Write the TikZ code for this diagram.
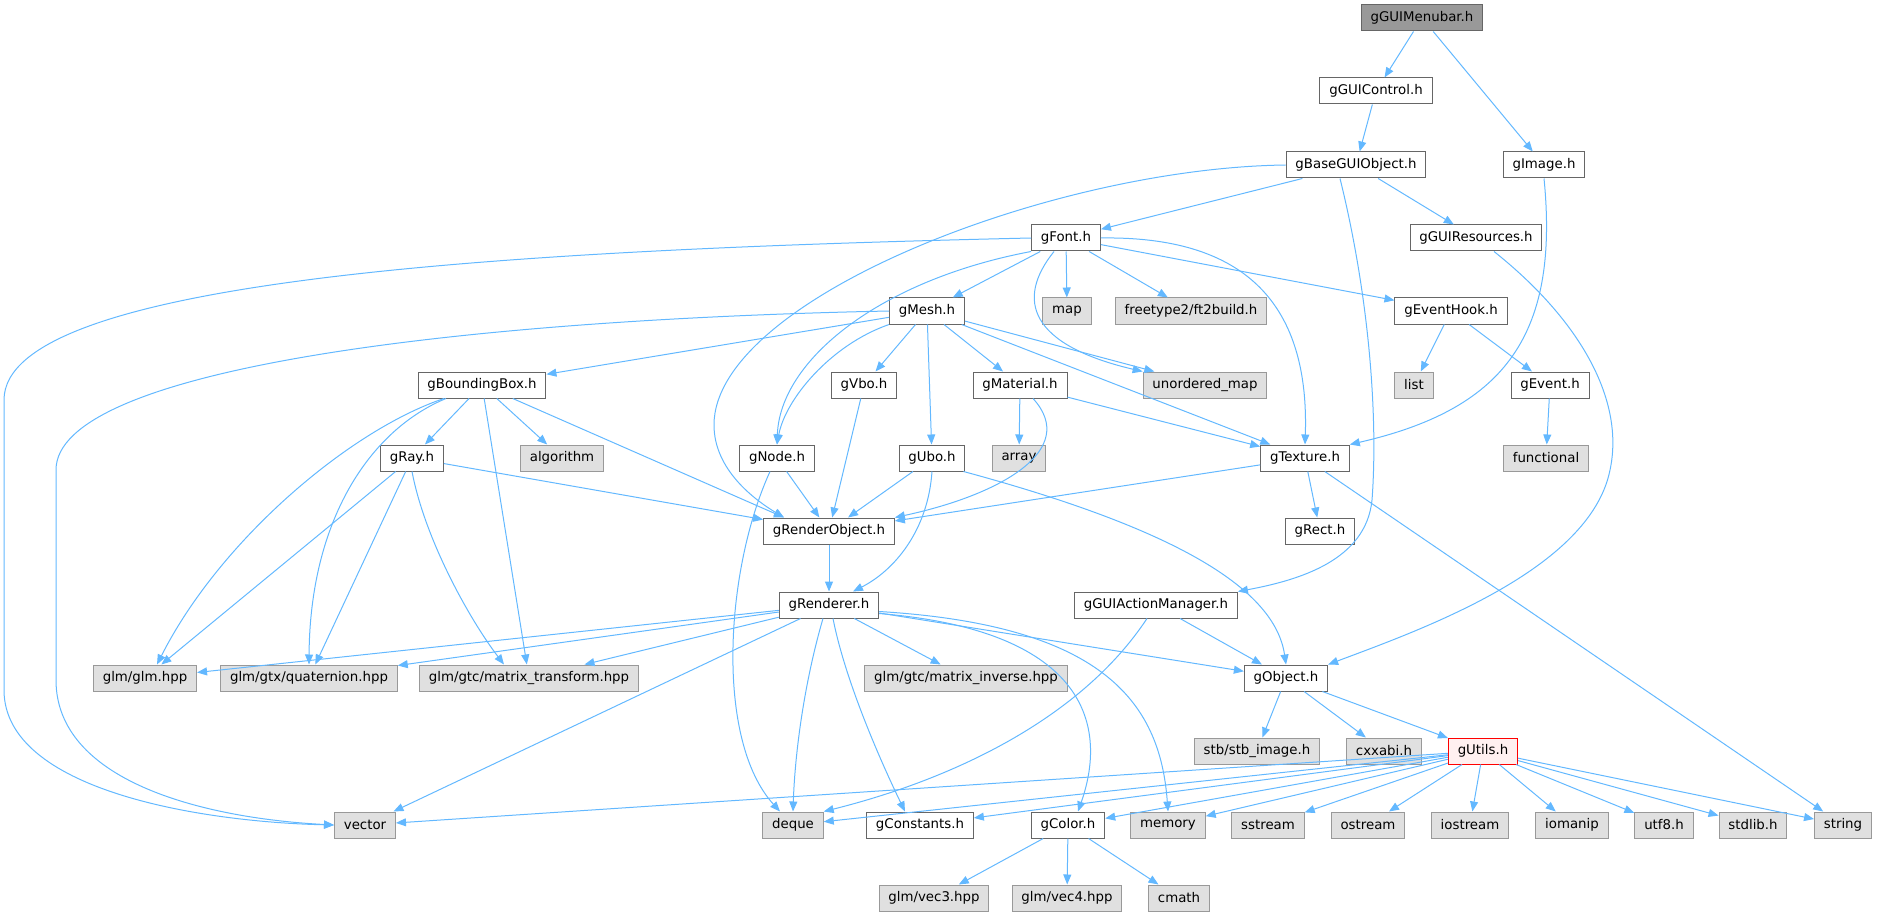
\documentclass[tikz,border=0pt]{standalone}
\usepackage{fontspec}
\setmainfont{DejaVu Sans}
\usetikzlibrary{arrows.meta,calc}
\definecolor{depblue}{HTML}{63B8FF}
\definecolor{boxline}{HTML}{666666}
\definecolor{sysline}{HTML}{999999}
\definecolor{sysfill}{HTML}{E0E0E0}
\definecolor{rootfill}{HTML}{999999}
\definecolor{warnfill}{HTML}{FFF0F0}

\begin{document}
\begin{tikzpicture}[x=0.75pt, y=-0.75pt, ->, >={Triangle[length=7.5pt,width=6pt]},
        file node/.style={rectangle, draw=boxline, fill=white, line width=0.75pt, minimum height=19.5pt, inner xsep=7pt, inner ysep=0pt, font=\fontsize{10}{12}\selectfont},
        sys node/.style={file node, draw=sysline, fill=sysfill},
        root node/.style={file node, fill=rootfill},
        warn node/.style={file node, draw=red, fill=warnfill},
        dep/.style={draw=depblue, line width=0.75pt},
        every edge/.style={dep}]
        \useasboundingbox (0,0) rectangle (1877,916);

        \node[root node] (menubar) at (1422,18) {gGUIMenubar.h};
        \node[file node] (guicontrol) at (1376,91) {gGUIControl.h};
        \node[file node] (baseguiobject) at (1356,165) {gBaseGUIObject.h};
        \node[file node] (gimage) at (1544,165) {gImage.h};
        \node[file node] (gfont) at (1066,238) {gFont.h};
        \node[file node] (guiresources) at (1476,238) {gGUIResources.h};
        \node[file node] (gmesh) at (927,311) {gMesh.h};
        \node[sys node] (map) at (1067,311) {map};
        \node[sys node] (ft2build) at (1191,311) {freetype2/ft2build.h};
        \node[file node] (eventhook) at (1451,311) {gEventHook.h};
        \node[file node] (boundingbox) at (482,385) {gBoundingBox.h};
        \node[file node] (gvbo) at (864,385) {gVbo.h};
        \node[file node] (material) at (1020,385) {gMaterial.h};
        \node[sys node] (unorderedmap) at (1205,385) {unordered\_map};
        \node[sys node] (list) at (1414,385) {list};
        \node[file node] (gevent) at (1550,385) {gEvent.h};
        \node[file node] (gray) at (412,458) {gRay.h};
        \node[sys node] (algorithm) at (562,458) {algorithm};
        \node[file node] (gnode) at (777,458) {gNode.h};
        \node[file node] (gubo) at (932,458) {gUbo.h};
        \node[sys node] (array) at (1019,458) {array};
        \node[file node] (texture) at (1305,458) {gTexture.h};
        \node[sys node] (functional) at (1546,458) {functional};
        \node[file node] (renderobject) at (829,531) {gRenderObject.h};
        \node[file node] (grect) at (1320,531) {gRect.h};
        \node[file node] (renderer) at (829,605) {gRenderer.h};
        \node[file node] (actionmanager) at (1156,605) {gGUIActionManager.h};
        \node[sys node] (glmhpp) at (145,678) {glm/glm.hpp};
        \node[sys node] (quaternion) at (309,678) {glm/gtx/quaternion.hpp};
        \node[sys node] (matrixtransform) at (529,678) {glm/gtc/matrix\_transform.hpp};
        \node[sys node] (matrixinverse) at (966,678) {glm/gtc/matrix\_inverse.hpp};
        \node[file node] (gobject) at (1286,678) {gObject.h};
        \node[sys node] (stbimage) at (1257,751) {stb/stb\_image.h};
        \node[sys node] (cxxabi) at (1384,751) {cxxabi.h};
        \node[warn node] (gutils) at (1483,751) {gUtils.h};
        \node[sys node] (vector) at (365,825) {vector};
        \node[sys node] (deque) at (793,825) {deque};
        \node[file node] (constants) at (920,825) {gConstants.h};
        \node[file node] (gcolor) at (1068,825) {gColor.h};
        \node[sys node] (memory) at (1168,825) {memory};
        \node[sys node] (sstream) at (1268,825) {sstream};
        \node[sys node] (ostream) at (1368,825) {ostream};
        \node[sys node] (iostream) at (1470,825) {iostream};
        \node[sys node] (iomanip) at (1572,825) {iomanip};
        \node[sys node] (utf8) at (1664,825) {utf8.h};
        \node[sys node] (stdlib) at (1753,825) {stdlib.h};
        \node[sys node] (string) at (1843,825) {string};
        \node[sys node] (vec3) at (934,898) {glm/vec3.hpp};
        \node[sys node] (vec4) at (1067,898) {glm/vec4.hpp};
        \node[sys node] (cmath) at (1179,898) {cmath};

        \path
        (menubar) edge (guicontrol)
        (menubar) edge (gimage)
        (guicontrol) edge (baseguiobject)
        (baseguiobject) edge (gfont)
        (baseguiobject) edge (guiresources)
        (gfont) edge (gmesh)
        (gfont) edge (map)
        (gfont) edge (ft2build)
        (gfont) edge (eventhook)
        (gmesh) edge (boundingbox)
        (gmesh) edge (gvbo)
        (gmesh) edge (gubo)
        (gmesh) edge (material)
        (gmesh) edge (unorderedmap)
        (gmesh) edge (texture)
        (eventhook) edge (list)
        (eventhook) edge (gevent)
        (gevent) edge (functional)
        (boundingbox) edge (gray)
        (boundingbox) edge (algorithm)
        (boundingbox) edge (matrixtransform)
        (boundingbox) edge ($(renderobject.north)+(-45,0)$)
        (gray) edge (glmhpp)
        (gray) edge (quaternion)
        (gray) edge (renderobject)
        (gvbo) edge (renderobject)
        (material) edge (array)
        (material) edge (texture)
        (gnode) edge (renderobject)
        (gubo) edge (renderobject)
        (texture) edge (renderobject)
        (texture) edge (grect)
        (texture) edge (string)
        (renderobject) edge (renderer)
        (renderer) edge (glmhpp)
        (renderer) edge (quaternion)
        (renderer) edge (matrixtransform)
        (renderer) edge (vector)
        (renderer) edge (matrixinverse)
        (renderer) edge (gobject)
        (actionmanager) edge (gobject)
        (gobject) edge (stbimage)
        (gobject) edge (cxxabi)
        (gobject) edge (gutils)
        (gutils) edge (vector)
        (gutils) edge (deque)
        (gutils) edge (constants)
        (gutils) edge (gcolor)
        (gutils) edge (memory)
        (gutils) edge (sstream)
        (gutils) edge (ostream)
        (gutils) edge (iostream)
        (gutils) edge (iomanip)
        (gutils) edge (utf8)
        (gutils) edge (stdlib)
        (gutils) edge (string)
        (gcolor) edge (vec3)
        (gcolor) edge (vec4)
        (gcolor) edge (cmath);

        \draw[dep] (gimage.south) .. controls (1560,340) and (1500,410) .. (texture.north east);
        \draw[dep] (baseguiobject.west) .. controls (1050,168) and (714,300) .. (714,425) .. controls (714,470) and (755,500) .. ($(renderobject.north)+(-45,0)$);
        \draw[dep] ($(baseguiobject.south)+(-16,0)$) .. controls (1370,300) and (1378,420) .. (1372,500) .. controls (1366,560) and (1300,580) .. (actionmanager.north east);
        \draw[dep] (gfont.west) .. controls (500,250) and (4,280) .. (4,400) -- (4,690) .. controls (4,790) and (200,822) .. (vector.west);
        \draw[dep] (gmesh.west) .. controls (450,320) and (56,370) .. (56,470) -- (56,680) .. controls (56,780) and (200,818) .. (vector.west);
        \draw[dep] (gfont.south west) .. controls (880,280) and (780,360) .. (gnode.north);
        \draw[dep] ($(gfont.south)+(-12,0)$) .. controls (1015,300) and (1030,345) .. (unorderedmap.north west);
        \draw[dep] (gfont.east) .. controls (1230,236) and (1310,290) .. (texture.north);
        \draw[dep] (gmesh.south west) .. controls (830,345) and (785,400) .. (gnode.north);
        \draw[dep] ($(boundingbox.south)+(-38,0)$) .. controls (350,430) and (220,540) .. ($(glmhpp.north)+(12,0)$);
        \draw[dep] ($(boundingbox.south)+(-36,0)$) .. controls (370,430) and (310,520) .. (quaternion.north);
        \draw[dep] (gray.south) .. controls (425,540) and (470,620) .. ($(matrixtransform.north)+(-25,0)$);
        \draw[dep] ($(gnode.south)+(-7,0)$) .. controls (725,570) and (715,740) .. ($(deque.north)+(-13,0)$);
        \draw[dep] (gubo.south) .. controls (928,530) and (895,570) .. ($(renderer.north)+(24,0)$);
        \draw[dep] ($(gubo.south east)+(-2,0)$) .. controls (1180,530) and (1275,590) .. (gobject.north);
        \draw[dep] ($(material.south)+(13,0)$) .. controls (1080,450) and (1000,495) .. (renderobject.north east);
        \draw[dep] ($(guiresources.south)+(18,0)$) .. controls (1580,320) and (1625,400) .. (1610,470) .. controls (1590,570) and (1420,630) .. (gobject.north east);
        \draw[dep] ($(renderer.south east)+(0,-5)$) .. controls (1080,630) and (1110,720) .. ($(gcolor.north)+(10,0)$);
        \draw[dep] ($(renderer.south east)+(0,-7)$) .. controls (1100,625) and (1160,700) .. (memory.north);
        \draw[dep] ($(renderer.south)+(4,0)$) .. controls (845,680) and (880,760) .. ($(constants.north)+(-15,0)$);
        \draw[dep] ($(renderer.south)+(-6,0)$) .. controls (805,680) and (795,750) .. (deque.north);
        \draw[dep] ($(actionmanager.south)+(-9,0)$) .. controls (1080,720) and (950,780) .. (deque.north east);

    \end{tikzpicture}
\end{document}
